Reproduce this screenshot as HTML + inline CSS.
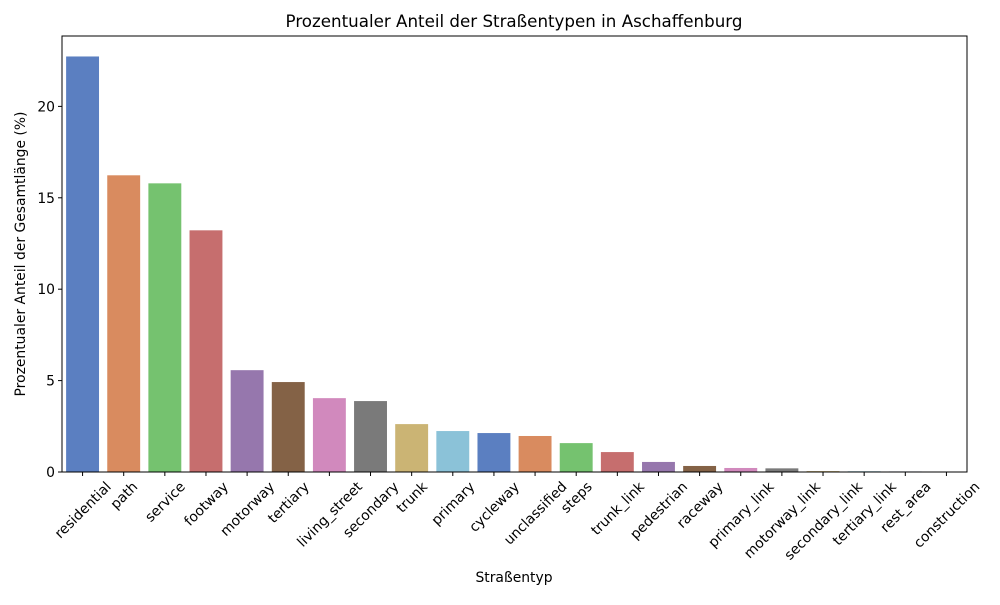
<!DOCTYPE html>
<html><head><meta charset="utf-8"><style>
body{margin:0;background:#fff;}
svg{font-family:"DejaVu Sans","Liberation Sans",sans-serif;}
</style></head><body>
<svg id="chart" width="1000" height="600" xmlns="http://www.w3.org/2000/svg">
<rect width="1000" height="600" fill="#fff"/>
<text x="514" y="27" text-anchor="middle" font-size="16.7">Prozentualer Anteil der Straßentypen in Aschaffenburg</text>
<g id="bars"></g><g id="xt"></g><g id="yt"></g>
<rect x="62" y="36" width="905" height="436" fill="none" stroke="#000" stroke-width="1"/>
<text x="514" y="582" text-anchor="middle" font-size="13.9">Straßentyp</text>
<text transform="translate(25,254) rotate(-90)" text-anchor="middle" font-size="13.9">Prozentualer Anteil der Gesamtlänge (%)</text>
</svg>
<script>
const categories=["residential","path","service","footway","motorway","tertiary","living_street","secondary","trunk","primary","cycleway","unclassified","steps","trunk_link","pedestrian","raceway","primary_link","motorway_link","secondary_link","tertiary_link","rest_area","construction"];
const values=[22.73,16.23,15.79,13.22,5.57,4.92,4.04,3.88,2.62,2.24,2.13,1.97,1.58,1.09,0.55,0.33,0.22,0.2,0.05,0.04,0.03,0.005];
const yTicks=[0,5,10,15,20];
const colors=["#5b7fc1","#d98b5f","#75c26f","#c66e6e","#9677ad","#846246","#d189bd","#7a7a7a","#cbb474","#8bc2d8"];
const NS="http://www.w3.org/2000/svg";
const x0=62,x1=967,yb=472,ymax=23.85,yt=36;
const step=(x1-x0)/categories.length;
const xs=i=>x0+step*(i+0.5);
const ys=v=>yb-(v/ymax)*(yb-yt);
function mk(t,a,p){const e=document.createElementNS(NS,t);for(const k in a)e.setAttribute(k,a[k]);p.appendChild(e);return e;}
const gb=document.getElementById('bars'),gx=document.getElementById('xt'),gy=document.getElementById('yt');
categories.forEach((c,i)=>{
 const w=step*0.8,y=ys(values[i]);
 const r=mk('rect',{x:xs(i)-w/2,y:y,width:w,height:yb-y,fill:colors[i%colors.length]},gb);
 
 
 const t=mk('line',{x1:xs(i),x2:xs(i),y1:yb,y2:yb+4,stroke:'#000'},gx);
 
 
 const l=mk('text',{'text-anchor':'middle','font-size':13.9},gx);
 l.textContent=c;
 
 
 const L=l.getComputedTextLength();
 const cy=yb+7+(L+14)*0.354;
 l.setAttribute('transform',`translate(${xs(i)},${cy}) rotate(-45) translate(0,5)`);
});
yTicks.forEach(v=>{
 const t=mk('line',{x1:x0-4,x2:x0,y1:ys(v),y2:ys(v),stroke:'#000'},gy);
 
 
 const l=mk('text',{x:x0-7,y:ys(v)+5,'text-anchor':'end','font-size':13.9},gy);
 l.textContent=v;
 
 
});
</script>
</body></html>
